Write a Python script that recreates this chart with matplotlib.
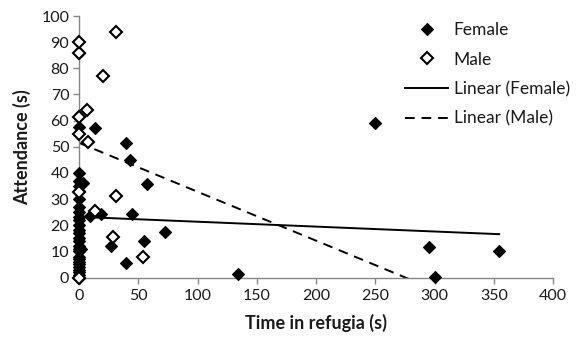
import matplotlib
matplotlib.use("Agg")
import matplotlib.pyplot as plt
import numpy as np

# ---- data ----
female_x = [0]*28 + [2, 3, 9.5, 13.2, 18.5, 27.2, 39.6, 39.9, 42.7, 44.7, 54.5, 57.8, 72.2,
                     134, 250, 295.6, 300.4, 354.6]
female_y = [0, 1, 2, 3, 4, 5, 6, 7, 8, 10, 11, 12, 14, 15, 17, 18, 20, 22, 23, 25, 27, 30,
            33, 35, 37, 40, 57.7, 86,
            11, 36, 23.5, 57.1, 24.2, 12.2, 51.5, 5.7, 44.9, 24.3, 14.0, 35.6, 17.3,
            1.2, 59.2, 11.8, 0.1, 10.1]

male_x = [0, 0, 0, 0, 0, 0, 31.5, 20.2, 6.7, 7.6, 31.5, 13.2, 28.3, 53.6]
male_y = [0, 32.7, 54.9, 61.5, 85.7, 90.2, 94.0, 77.1, 64.1, 51.9, 31.2, 25.4, 15.6, 7.7]

# linear trendlines (slope, intercept) and x-extent
female_trend = (-0.0187, 23.2)
female_trend_range = (0, 354.6)
male_trend = (-0.187, 51.5)
male_trend_range = (0, 300)

x_ticks = [0, 50, 100, 150, 200, 250, 300, 350, 400]
y_ticks = [0, 10, 20, 30, 40, 50, 60, 70, 80, 90, 100]

plt.rcParams['font.family'] = ['Lato', 'DejaVu Sans']

fig = plt.figure(figsize=(5.82, 3.41), dpi=100)
ax = fig.add_axes([79/582, 1-277.5/341, (553-79)/582, (277.5-16)/341])

ax.plot(female_x, female_y, linestyle='none', marker='D', markersize=6.5,
        markerfacecolor='black', markeredgecolor='black', markeredgewidth=0.8,
        label='Female', zorder=3, clip_on=False)
ax.plot(male_x, male_y, linestyle='none', marker='D', markersize=5.8,
        markerfacecolor='white', markeredgecolor='black', markeredgewidth=1.5,
        label='Male', zorder=4, clip_on=False)

fx = np.array(female_trend_range)
ax.plot(fx, female_trend[0]*fx + female_trend[1], color='black', lw=1.4,
        label='Linear (Female)', zorder=2)
mx = np.array(male_trend_range)
ax.plot(mx, male_trend[0]*mx + male_trend[1], color='black', lw=1.4,
        linestyle=(0, (5, 3.5)), label='Linear (Male)', zorder=2)

ax.set_xlim(0, 400)
ax.set_ylim(0, 100)
ax.set_xticks(x_ticks)
ax.set_yticks(y_ticks)
ax.set_xticklabels([str(t) for t in x_ticks])
ax.set_yticklabels([str(t) for t in y_ticks])

for s in ['top', 'right']:
    ax.spines[s].set_visible(False)
for s in ['left', 'bottom']:
    ax.spines[s].set_color('#868686')
    ax.spines[s].set_linewidth(1.0)
ax.tick_params(axis='both', colors='#868686', labelcolor='#1a1a1a', length=4,
               width=1.0, labelsize=11.5, direction='out')
ax.tick_params(axis='x', pad=4)
ax.tick_params(axis='y', pad=3)

ax.set_xlabel('Time in refugia (s)', fontsize=13, fontweight='bold', labelpad=8,
              color='#1a1a1a')
ax.set_ylabel('Attendance (s)', fontsize=13, fontweight='bold', labelpad=7,
              color='#1a1a1a')

leg = ax.legend(loc='upper left', bbox_to_anchor=(405/582, 1-22/341),
                bbox_transform=fig.transFigure, frameon=False, fontsize=12.5,
                handlelength=2.5, handletextpad=0.3, labelspacing=0.78,
                borderpad=0, borderaxespad=0)
for t in leg.get_texts():
    t.set_color('#1a1a1a')

fig.savefig('out.png', dpi=100)
